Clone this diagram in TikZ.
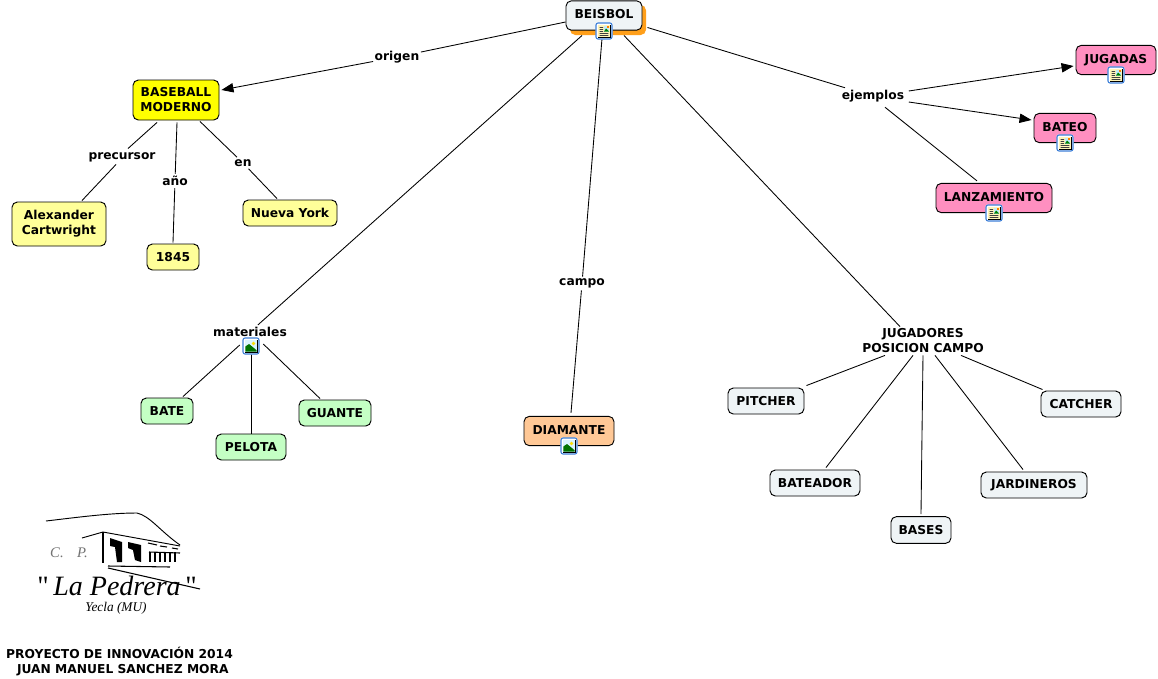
\documentclass[tikz,border=0pt]{standalone}
\usepackage{fontspec}
\setmainfont{DejaVu Sans}
\newfontfamily\logofont{Liberation Serif}
\usetikzlibrary{arrows.meta}
\definecolor{cblue}{HTML}{EFF4F6}
\definecolor{cyel}{HTML}{FFFF00}
\definecolor{clyel}{HTML}{FFFF99}
\definecolor{cgreen}{HTML}{C4FFC4}
\definecolor{corange}{HTML}{FFC896}
\definecolor{cpink}{HTML}{FF8FC0}
\definecolor{cshadow}{HTML}{FF9F1A}
\definecolor{iconblue}{HTML}{3C7FD8}
\definecolor{iconpaper}{HTML}{FFF4B8}
\newcommand{\up}[1]{\raisebox{-2.6pt}[0pt][0pt]{#1}}
\tikzset{
  x=0.75pt,y=-0.75pt,
  base/.style={font=\bfseries\fontsize{9.2pt}{11.25pt}\selectfont,text=black},
  cbox/.style={base,draw=black,line width=0.7pt,rounded corners=4pt,inner sep=0pt,align=center},
  lab/.style={base,inner xsep=1pt,inner ysep=1.5pt,align=center},
  conn/.style={draw=black,line width=0.65pt},
  arr/.style={conn,-{Triangle[length=9pt,width=7pt]}},
  iconnode/.style={draw=none,minimum size=12pt,inner sep=0pt},
  pics/iconframe/.style={code={
    \fill[white,rounded corners=1.5pt] (-8.5,-8.5) rectangle (8.5,8.5);
    \draw[iconblue,line width=0.8pt,rounded corners=1.5pt] (-8,-8) rectangle (8,8);
    \draw[black,line width=0.5pt] (-6,-6) rectangle (6,6);}},
  pics/docicon/.style={code={
    \pic {iconframe};
    \fill[iconpaper] (-5.6,-5.6) rectangle (5.6,5.6);
    \fill[black!75] (-4.4,-4) rectangle (-0.8,-3.2) (-4.4,-2) rectangle (-0.8,-1.2) (-4.4,0) rectangle (-0.8,0.8) (-4.4,2) rectangle (4.4,2.8) (-4.4,4) rectangle (4.4,4.8);
    \fill[cyan!25] (0,-5) rectangle (5,0.5);
    \fill[green!50!black] (0,0.5) -- (2,-2.5) -- (5,0.5) -- cycle;
    \fill[orange] (2.8,-4.8) rectangle (4.8,-2.8);}},
  pics/imgicon/.style={code={
    \pic {iconframe};
    \fill[cyan!15] (-5.6,-5.6) rectangle (5.6,5.6);
    \fill[green!45!black] (-5.6,5.6) -- (-5.6,0.5) -- (-2,-2) -- (5.6,4.2) -- (5.6,5.6) -- cycle;
    \fill[yellow!80!orange] (2.5,-2.5) circle (1.8);}}
}
\begin{document}
\begin{tikzpicture}
\useasboundingbox (0,0) rectangle (1158,679);
\fill[white] (0,0) rectangle (1158,679);
% shadow of the root concept
\fill[cshadow,rounded corners=4pt] (570,5) rectangle (646,35);
% concepts
\node[cbox,fill=cblue,minimum width=57pt,minimum height=22pt] (beisbol) at (604,15.5) {\up{BEISBOL}};
\node[cbox,fill=cyel,minimum width=64.5pt,minimum height=30pt] (moderno) at (176,100) {BASEBALL\\MODERNO};
\node[cbox,fill=clyel,minimum width=70.5pt,minimum height=33pt] (cartw) at (59,224) {Alexander\\Cartwright};
\node[cbox,fill=clyel,minimum width=39pt,minimum height=19.5pt] (y1845) at (173,257) {1845};
\node[cbox,fill=clyel,minimum width=70.5pt,minimum height=19.5pt] (ny) at (290,213) {Nueva York};
\node[cbox,fill=cgreen,minimum width=39pt,minimum height=19.5pt] (bate) at (167,411) {BATE};
\node[cbox,fill=cgreen,minimum width=52.5pt,minimum height=19.5pt] (pelota) at (251,447) {PELOTA};
\node[cbox,fill=cgreen,minimum width=54pt,minimum height=19.5pt] (guante) at (335,413) {GUANTE};
\node[cbox,fill=corange,minimum width=67.5pt,minimum height=22pt] (diamante) at (569,431) {\up{DIAMANTE}};
\node[cbox,fill=cblue,minimum width=57pt,minimum height=19.5pt] (pitcher) at (766,401) {PITCHER};
\node[cbox,fill=cblue,minimum width=67.5pt,minimum height=19.5pt] (bateador) at (815,483) {BATEADOR};
\node[cbox,fill=cblue,minimum width=45pt,minimum height=20pt] (bases) at (921,530) {BASES};
\node[cbox,fill=cblue,minimum width=79.5pt,minimum height=19.5pt] (jard) at (1034,485) {JARDINEROS};
\node[cbox,fill=cblue,minimum width=60pt,minimum height=19.5pt] (catcher) at (1081,404) {CATCHER};
\node[cbox,fill=cpink,minimum width=60pt,minimum height=22pt] (jugadas) at (1116,60) {\up{JUGADAS}};
\node[cbox,fill=cpink,minimum width=46.5pt,minimum height=22pt] (bateo) at (1065,128) {\up{BATEO}};
\node[cbox,fill=cpink,minimum width=87pt,minimum height=22pt] (lanz) at (994,198) {\up{LANZAMIENTO}};
% linking phrases
\node[lab] (origen) at (397,57) {origen};
\node[lab] (precursor) at (122,157.5) {precursor};
\node[lab] (anyo) at (175,181) {año};
\node[lab] (en) at (243,163) {en};
\node[lab] (materiales) at (250,332) {materiales};
\node[lab] (campo) at (582,283.5) {campo};
\node[lab] (ejemplos) at (873,96) {ejemplos};
\node[lab] (posicion) at (923,341) {JUGADORES\\POSICION CAMPO};
% icon anchors
\node[iconnode] (ib) at (604,31) {};
\node[iconnode] (im) at (251,346) {};
\node[iconnode] (id) at (569,446) {};
\node[iconnode] (ij) at (1116,75) {};
\node[iconnode] (ie) at (1065,143) {};
\node[iconnode] (il) at (994,213) {};
% connectors
\draw[conn] ([shift={(0,6.5)}]beisbol.west) -- (origen);
\draw[arr] (origen) -- ([shift={(2,-10)}]moderno.east);
\draw[conn] ([shift={(-22,20)}]beisbol.center) -- (materiales);
\draw[conn] ([shift={(-2,23)}]beisbol.center) -- (campo);
\draw[conn] (campo) -- ([shift={(2,-3)}]diamante.north);
\draw[conn] ([shift={(20,20)}]beisbol.center) -- ([shift={(-23,0)}]posicion.north);
\draw[conn] ([shift={(5,12)}]beisbol.east) -- ([shift={(-28,0)}]ejemplos.north);
\draw[arr] ([shift={(3,-5)}]ejemplos.east) -- ([shift={(-2,6)}]jugadas.west);
\draw[arr] ([shift={(3,6)}]ejemplos.east) -- ([shift={(-2,-8)}]bateo.west);
\draw[conn] ([shift={(12,3)}]ejemplos.south) -- ([shift={(-17,-2)}]lanz.north);
\draw[conn] ([shift={(-19,2)}]moderno.south) -- ([shift={(6,-2)}]precursor.north);
\draw[conn] ([shift={(-6,0)}]precursor.south) -- ([shift={(23,-1)}]cartw.north);
\draw[conn] ([shift={(1,2)}]moderno.south) -- (anyo);
\draw[conn] (anyo) -- ([shift={(0,-1)}]y1845.north);
\draw[conn] ([shift={(24,1)}]moderno.south) -- (en);
\draw[conn] (en) -- ([shift={(-13,-1)}]ny.north);
\draw[conn] ([shift={(-3,-1)}]im.west) -- ([shift={(16,-1)}]bate.north);
\draw[conn] (im.south) -- (pelota.north);
\draw[conn] ([shift={(4,-2)}]im.east) -- ([shift={(-15,-1)}]guante.north);
\draw[conn] ([shift={(-38,0)}]posicion.south) -- ([shift={(2,-2)}]pitcher.north east);
\draw[conn] ([shift={(-10,0)}]posicion.south) -- ([shift={(11,-2)}]bateador.north);
\draw[conn] (posicion.south) -- ([shift={(0,-2)}]bases.north);
\draw[conn] ([shift={(12,0)}]posicion.south) -- ([shift={(-11,-2)}]jard.north);
\draw[conn] ([shift={(38,0)}]posicion.south) -- ([shift={(2,-1)}]catcher.north west);
% icons
\pic at (ib) {docicon};
\pic at (im) {imgicon};
\pic at (id) {imgicon};
\pic at (ij) {docicon};
\pic at (ie) {docicon};
\pic at (il) {docicon};
% logo
\draw[black,line width=0.7pt] (46,521) .. controls (80,517) and (110,513) .. (137,513) .. controls (150,516) and (160,531) .. (180,545);
\draw[black,line width=0.7pt] (82,538) -- (103,532) -- (180,546);
\draw[black,line width=0.9pt] (103,532) -- (103,563);
\fill[black] (110,538) -- (122,542) -- (122,562) -- (117,562) -- (115,547) -- (110,546) -- cycle;
\fill[black] (128,542) -- (141,545) -- (141,562) -- (135,560) -- (133,550) -- (128,548) -- cycle;
\draw[black,line width=0.8pt] (148,543) -- (157,545) (160,546) -- (167,547) (172,548) -- (178,549);
\draw[black,line width=0.8pt] (149,552) -- (180,553);
\foreach \i in {150,155,...,175}{\draw[black,line width=0.8pt] (\i,552) -- (\i,562);}
\draw[black,line width=0.8pt] (108,566) -- (170,567) (108,568) -- (200,589);
\node[inner sep=0pt,text=black!55,font=\logofont\itshape\fontsize{11pt}{11pt}\selectfont] (logocp) at (69,553) {C.\hspace{10pt}P.};
\node[inner sep=0pt,text=black,font=\logofont\itshape\fontsize{21pt}{21pt}\selectfont] (logoname) at (117,586) {\textup{"}\,La Pedrera\,\textup{"}};
\node[inner sep=0pt,text=black,font=\logofont\itshape\fontsize{10pt}{10pt}\selectfont] (logoplace) at (116,608) {Yecla (MU)};
% credits
\node[base,inner sep=0pt,align=center] (credits) at (119.5,661.5) {PROYECTO DE INNOVACIÓN 2014\\\hspace*{5pt}JUAN MANUEL SANCHEZ MORA};
\end{tikzpicture}
\end{document}
